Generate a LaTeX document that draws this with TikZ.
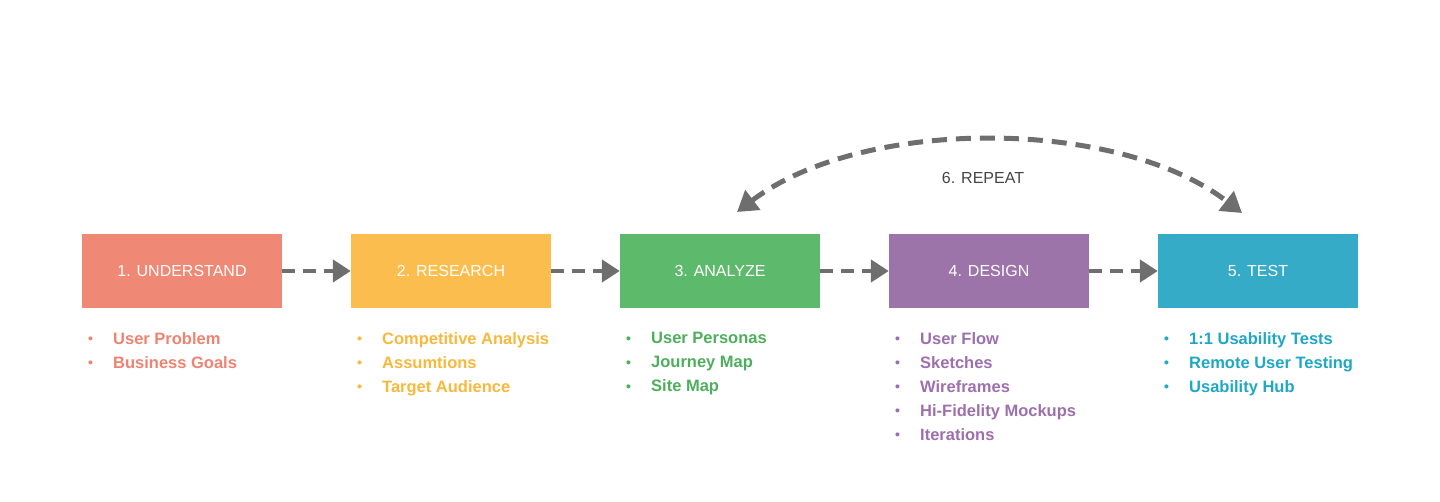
\documentclass[tikz,border=0pt]{standalone}
\usepackage{fontspec}
\setmainfont{Liberation Sans}
\usetikzlibrary{arrows.meta}
\definecolor{cUnd}{HTML}{EF8875}
\definecolor{cRes}{HTML}{FBBE4E}
\definecolor{cAna}{HTML}{5DB96B}
\definecolor{cDes}{HTML}{9D74A9}
\definecolor{cTst}{HTML}{35ABC8}
\definecolor{tUnd}{HTML}{EE8371}
\definecolor{tRes}{HTML}{F8B83C}
\definecolor{tAna}{HTML}{4DAF5C}
\definecolor{tDes}{HTML}{9E6FAD}
\definecolor{tTst}{HTML}{1FA7C5}
\definecolor{flow}{HTML}{6E6E6E}
\definecolor{lbl}{HTML}{454545}
\newcommand{\itm}[1]{\makebox[25pt][l]{\fontsize{14}{14}\selectfont\raisebox{0.5pt}{•}}#1}
\tikzset{
  stagebox/.style={fill=#1, minimum width=200pt, minimum height=74pt, inner sep=0pt,
    text=white, font=\fontsize{16}{18}\selectfont},
  itemlist/.style={text=#1, anchor=north west, align=left, inner sep=0pt,
    font=\fontsize{16.5}{24}\selectfont\bfseries},
  flowarrow/.style={draw=flow, line width=4.5pt, dash pattern=on 13pt off 8pt,
    -{Triangle[length=18pt,width=22pt]}},
  loopback/.style={draw=flow, line width=5pt, dash pattern=on 15pt off 9pt,
    {Triangle[length=20pt,width=24pt]}-{Triangle[length=20pt,width=24pt]}}
}
\begin{document}
\begin{tikzpicture}[x=1pt,y=-1pt]
\useasboundingbox (0,0) rectangle (1440,502);
% stage boxes
\node[stagebox=cUnd] (s1) at (182,271) {1. UNDERSTAND};
\node[stagebox=cRes] (s2) at (451,271) {2. RESEARCH};
\node[stagebox=cAna] (s3) at (720,271) {3. ANALYZE};
\node[stagebox=cDes] (s4) at (989,271) {4. DESIGN};
\node[stagebox=cTst] (s5) at (1258,271) {5. TEST};
% forward flow
\draw[flowarrow] (s1.east) -- (s2.west);
\draw[flowarrow] (s2.east) -- (s3.west);
\draw[flowarrow] (s3.east) -- (s4.west);
\draw[flowarrow] (s4.east) -- (s5.west);
% repeat loop
\coordinate (rl) at (737,212);
\coordinate (rr) at (1242,213);
\draw[loopback] (rl) .. controls (862,117) and (1117,117) .. (rr);
\node[text=lbl, font=\fontsize{16}{18}\selectfont] (rep) at (983,178) {6. REPEAT};
% activity lists
\node[itemlist=tUnd] (l1) at (88,332) {\itm{User Problem}\\\itm{Business Goals}};
\node[itemlist=tRes] (l2) at (357,332) {\itm{Competitive Analysis}\\\itm{Assumtions}\\\itm{Target Audience}};
\node[itemlist=tAna] (l3) at (626,332) {\itm{User Personas}\\\itm{Journey Map}\\\itm{Site Map}};
\node[itemlist=tDes] (l4) at (895,332) {\itm{User Flow}\\\itm{Sketches}\\\itm{Wireframes}\\\itm{Hi-Fidelity Mockups}\\\itm{Iterations}};
\node[itemlist=tTst] (l5) at (1164,332) {\itm{1:1 Usability Tests}\\\itm{Remote User Testing}\\\itm{Usability Hub}};
\end{tikzpicture}
\end{document}
